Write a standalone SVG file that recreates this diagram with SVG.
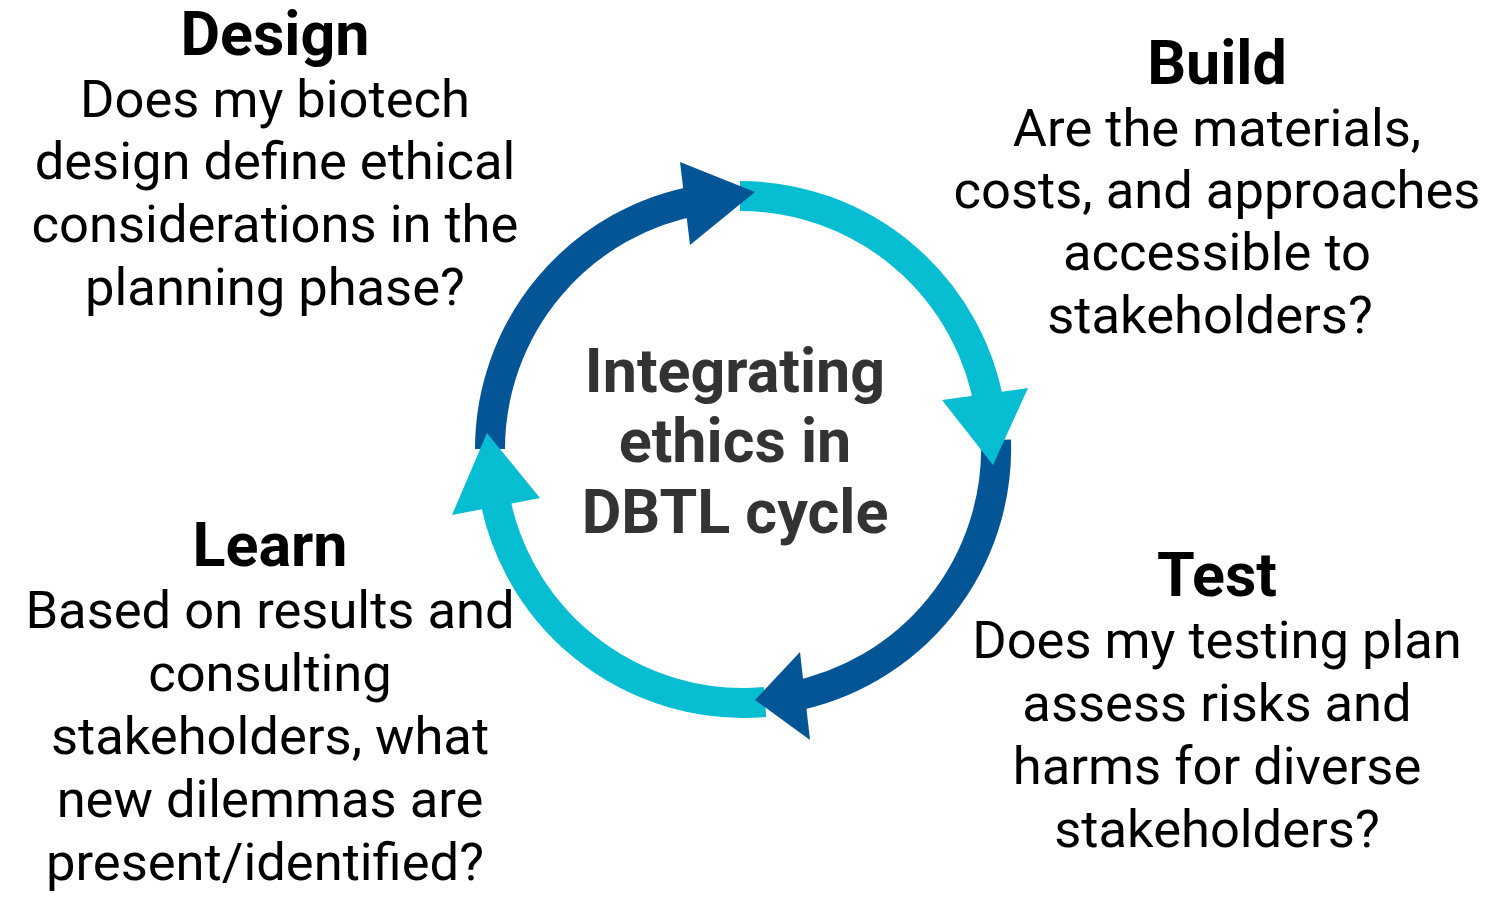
<svg xmlns="http://www.w3.org/2000/svg" width="1502" height="910" viewBox="0 0 1502 910">
<style>
.t{font-family:Roboto,"Liberation Sans",sans-serif;text-anchor:middle;fill:#000}
.h{font-size:61px;font-weight:bold}
.b{font-size:52.5px}
.c{font-family:Roboto,"Liberation Sans",sans-serif;text-anchor:middle;font-size:61px;font-weight:bold;fill:#333}
.d{fill:none;stroke:#035596;stroke-width:30}
.l{fill:none;stroke:#07bdd1;stroke-width:30}
</style>
<rect width="1502" height="910" fill="#fff"/>
<g id="connectors">
<path class="d" d="M490,449 A253,253 0 0 1 700,200"/>
<path class="l" d="M740,196 A253,253 0 0 1 990,410"/>
<path class="d" d="M996,440 A253,253 0 0 1 790,697"/>
<path class="l" d="M765,702 A253,253 0 0 1 492,480"/>
<polygon points="680,162 755,192 690,245" fill="#035596"/>
<polygon points="942,400 1028,388 993,465" fill="#07bdd1"/>
<polygon points="810,740 755,700 800,652" fill="#035596"/>
<polygon points="452,515 487,433 540,498" fill="#07bdd1"/>
</g>
<g id="center"><text class="c"><tspan x="735" y="392">Integrating</tspan><tspan x="735" y="462">ethics in</tspan><tspan x="735" y="533">DBTL cycle</tspan></text></g>
<g id="design"><text class="t h" x="275" y="55">Design</text><text class="t b"><tspan x="275" y="117">Does my biotech</tspan><tspan x="275" y="179">design define ethical</tspan><tspan x="275" y="242">considerations in the</tspan><tspan x="275" y="305">planning phase?</tspan></text></g>
<g id="build"><text class="t h" x="1217" y="84">Build</text><text class="t b"><tspan x="1217" y="146">Are the materials,</tspan><tspan x="1217" y="208">costs, and approaches</tspan><tspan x="1217" y="270">accessible to</tspan><tspan x="1210" y="333">stakeholders?</tspan></text></g>
<g id="learn"><text class="t h" x="270" y="566">Learn</text><text class="t b"><tspan x="270" y="628">Based on results and</tspan><tspan x="270" y="691">consulting</tspan><tspan x="270" y="754">stakeholders, what</tspan><tspan x="270" y="817">new dilemmas are</tspan><tspan x="265" y="880">present/identified?</tspan></text></g>
<g id="test"><text class="t h" x="1217" y="596">Test</text><text class="t b"><tspan x="1217" y="658">Does my testing plan</tspan><tspan x="1217" y="721">assess risks and</tspan><tspan x="1217" y="784">harms for diverse</tspan><tspan x="1217" y="847">stakeholders?</tspan></text></g>
</svg>
